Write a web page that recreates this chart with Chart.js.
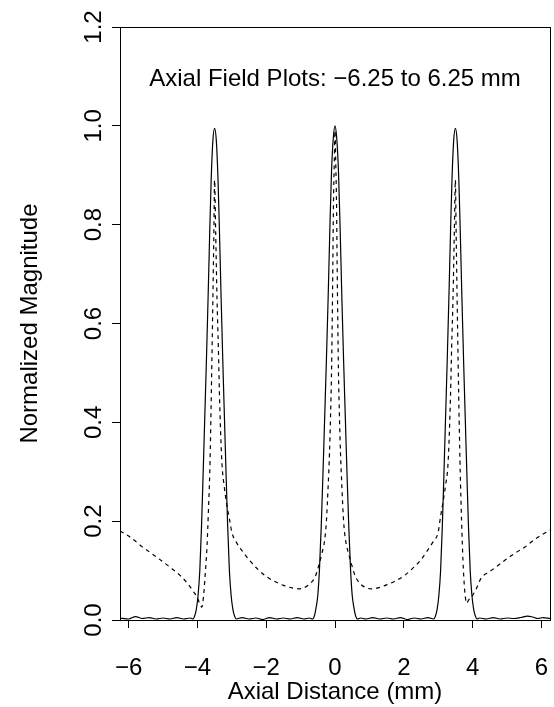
<!DOCTYPE html>
<html>
<head>
<meta charset="utf-8">
<script src="https://cdn.jsdelivr.net/npm/chart.js@4.4.1/dist/chart.umd.min.js"></script>
<style>
  html, body { margin: 0; padding: 0; background: #fff; }
  #wrap { width: 554px; height: 707px; }
</style>
</head>
<body>
<div id="wrap"><canvas id="fieldChart"></canvas></div>
<script>
const chartTitle = 'Axial Field Plots: \u22126.25 to 6.25 mm';
const xTicks = [-6, -4, -2, 0, 2, 4, 6];
const yTicks = [0, 0.2, 0.4, 0.6, 0.8, 1.0, 1.2];

// solid curve
const solidX = [
  -6.25, -6.0, -5.8, -5.6, -5.4, -5.2, -5.0, -4.8, -4.6, -4.4, -4.2,
  -4.13, -4.08, -4.03, -3.98, -3.93, -3.88, -3.84, -3.79, -3.74, -3.69, -3.64, -3.60, -3.55,
  -3.50,
  -3.45, -3.40, -3.36, -3.31, -3.26, -3.21, -3.16, -3.12, -3.07, -3.02, -2.97, -2.92, -2.87,
  -2.7, -2.5, -2.3, -2.1, -1.9, -1.7, -1.5, -1.3, -1.1, -0.9, -0.75,
  -0.65, -0.60, -0.55, -0.50, -0.45, -0.40, -0.35, -0.30, -0.25, -0.20, -0.15, -0.10, -0.05,
  0,
  0.05, 0.10, 0.15, 0.20, 0.25, 0.30, 0.35, 0.40, 0.45, 0.50, 0.55, 0.60, 0.65,
  0.75, 0.9, 1.1, 1.3, 1.5, 1.7, 1.9, 2.1, 2.3, 2.5, 2.7,
  2.87, 2.92, 2.97, 3.02, 3.07, 3.12, 3.16, 3.21, 3.26, 3.31, 3.36, 3.40, 3.45,
  3.50,
  3.55, 3.60, 3.64, 3.69, 3.74, 3.79, 3.84, 3.88, 3.93, 3.98, 4.03, 4.08, 4.13,
  4.2, 4.4, 4.6, 4.8, 5.0, 5.2, 5.4, 5.6, 5.75, 5.9, 6.05, 6.25
];
const solidY = [
  0.004, 0.002, 0.007, 0.003, 0.005, 0.002, 0.004, 0.002, 0.005, 0.002, 0.004,
  0.002, 0.008, 0.022, 0.05, 0.10, 0.19, 0.28, 0.40, 0.52, 0.65, 0.79, 0.89, 0.97,
  0.995,
  0.97, 0.89, 0.79, 0.65, 0.52, 0.40, 0.28, 0.19, 0.10, 0.05, 0.022, 0.008, 0.002,
  0.005, 0.002, 0.004, 0.001, 0.005, 0.002, 0.004, 0.002, 0.005, 0.002, 0.004,
  0.002, 0.008, 0.025, 0.05, 0.105, 0.19, 0.295, 0.41, 0.525, 0.65, 0.79, 0.91, 0.975,
  1.0,
  0.975, 0.91, 0.79, 0.65, 0.525, 0.41, 0.295, 0.19, 0.105, 0.05, 0.025, 0.008, 0.002,
  0.004, 0.002, 0.005, 0.002, 0.004, 0.002, 0.005, 0.001, 0.004, 0.002, 0.005,
  0.002, 0.008, 0.022, 0.05, 0.10, 0.19, 0.28, 0.40, 0.52, 0.65, 0.79, 0.89, 0.97,
  0.995,
  0.97, 0.89, 0.79, 0.65, 0.52, 0.40, 0.28, 0.19, 0.10, 0.05, 0.022, 0.008, 0.002,
  0.004, 0.002, 0.005, 0.002, 0.004, 0.003, 0.005, 0.008, 0.006, 0.003, 0.005, 0.003
];

// dashed curve
const dashX = [
  -6.25, -6.0, -5.6, -5.2, -4.8, -4.47, -4.3, -4.1, -4.0, -3.93, -3.87,
  -3.82, -3.77, -3.72, -3.68, -3.64, -3.61, -3.58, -3.55, -3.52,
  -3.50,
  -3.47, -3.43, -3.39, -3.36, -3.32, -3.28, -3.22, -3.15, -3.07, -3.0,
  -2.85, -2.7, -2.5, -2.25, -2.0, -1.75, -1.5, -1.25, -1.05, -0.85, -0.7, -0.58,
  -0.46, -0.38, -0.3, -0.25, -0.2, -0.16, -0.13, -0.1, -0.07, -0.044, -0.02,
  0,
  0.02, 0.044, 0.07, 0.1, 0.13, 0.16, 0.2, 0.25, 0.3, 0.38, 0.46,
  0.58, 0.7, 0.85, 1.05, 1.25, 1.5, 1.75, 2.0, 2.25, 2.5, 2.7, 2.85,
  3.0, 3.07, 3.15, 3.22, 3.28, 3.32, 3.36, 3.39, 3.43, 3.47,
  3.50,
  3.52, 3.55, 3.58, 3.61, 3.64, 3.68, 3.72, 3.77, 3.83,
  3.88, 4.0, 4.1, 4.25, 4.5, 4.75, 5.0, 5.25, 5.53, 5.8, 6.0, 6.25
];
const dashY = [
  0.180, 0.170, 0.148, 0.128, 0.107, 0.088, 0.075, 0.056, 0.045, 0.033, 0.026,
  0.05, 0.095, 0.15, 0.22, 0.30, 0.40, 0.52, 0.65, 0.79,
  0.89,
  0.79, 0.65, 0.55, 0.46, 0.37, 0.31, 0.27, 0.235, 0.205, 0.178,
  0.155, 0.14, 0.122, 0.103, 0.088, 0.078, 0.070, 0.065, 0.063, 0.067, 0.075, 0.087,
  0.113, 0.135, 0.162, 0.20, 0.27, 0.338, 0.41, 0.506, 0.67, 0.844, 0.93,
  0.99,
  0.93, 0.844, 0.67, 0.506, 0.41, 0.338, 0.27, 0.20, 0.165, 0.138, 0.118,
  0.09, 0.076, 0.067, 0.063, 0.065, 0.071, 0.079, 0.089, 0.104, 0.122, 0.142, 0.158,
  0.178, 0.21, 0.243, 0.275, 0.31, 0.37, 0.46, 0.55, 0.65, 0.79,
  0.89,
  0.79, 0.65, 0.52, 0.40, 0.30, 0.20, 0.12, 0.06, 0.034,
  0.04, 0.05, 0.062, 0.085, 0.098, 0.111, 0.124, 0.136, 0.148, 0.163, 0.172, 0.182
];

const toPoints = (xs, ys) => xs.map((x, i) => ({ x: x, y: ys[i] }));
const font = { family: '"Liberation Sans", Arial, Helvetica, sans-serif', size: 24 };
const uminus = (v) => String(v).replace('-', '\u2212');

const boxAndTitle = {
  id: 'boxAndTitle',
  afterDraw(chart) {
    const { ctx, chartArea: a } = chart;
    ctx.save();
    ctx.strokeStyle = '#000';
    ctx.lineWidth = 1;
    ctx.strokeRect(a.left + 0.5, a.top + 0.5, a.right - a.left, a.bottom - a.top);
    ctx.fillStyle = '#000';
    ctx.font = '24px ' + font.family;
    ctx.textAlign = 'center';
    ctx.textBaseline = 'alphabetic';
    ctx.fillText(chartTitle, (a.left + a.right) / 2, a.top + 59);
    ctx.restore();
  }
};

new Chart(document.getElementById('fieldChart'), {
  type: 'line',
  data: {
    datasets: [
      {
        label: 'solid',
        data: toPoints(solidX, solidY),
        borderColor: '#000',
        borderWidth: 1.2,
        pointRadius: 0,
        tension: 0,
        cubicInterpolationMode: 'monotone',
      },
      {
        label: 'dashed',
        data: toPoints(dashX, dashY),
        borderColor: '#000',
        borderWidth: 1.2,
        borderDash: [4, 4],
        pointRadius: 0,
        cubicInterpolationMode: 'monotone',
      },
    ],
  },
  options: {
    responsive: true,
    maintainAspectRatio: false,
    animation: false,
    layout: { padding: { top: 27, right: 4, left: 0, bottom: 0 } },
    plugins: {
      legend: { display: false },
      tooltip: { enabled: false },
    },
    scales: {
      x: {
        type: 'linear',
        min: -6.25,
        max: 6.25,
        afterBuildTicks: (s) => { s.ticks = xTicks.map((v) => ({ value: v })); },
        afterFit: (s) => {
          s.height = 87;
          s.paddingLeft = 0; s.paddingRight = 0;
        },
        border: { display: true, color: '#000', width: 1 },
        grid: { drawOnChartArea: false, drawTicks: true, tickLength: 8, color: '#000' },
        ticks: {
          color: '#000',
          font: font,
          padding: 26,
          maxRotation: 0,
          autoSkip: false,
          callback: (v) => uminus(v),
        },
        title: {
          display: true,
          text: 'Axial Distance (mm)',
          color: '#000',
          font: font,
          padding: { top: 0, bottom: 0 },
        },
      },
      y: {
        min: 0,
        max: 1.2,
        afterBuildTicks: (s) => { s.ticks = yTicks.map((v) => ({ value: v })); },
        afterFit: (s) => {
          s.width = 120;
          s.paddingTop = 0; s.paddingBottom = 0;
        },
        border: { display: true, color: '#000', width: 1 },
        grid: { drawOnChartArea: false, drawTicks: true, tickLength: 8, color: '#000' },
        ticks: {
          color: '#000',
          font: font,
          padding: 1,
          minRotation: 90,
          maxRotation: 90,
          crossAlign: 'center',
          autoSkip: false,
          callback: (v) => Number(v).toFixed(1),
        },
        title: {
          display: true,
          text: 'Normalized Magnitude',
          color: '#000',
          font: font,
          padding: { top: 16, bottom: 0 },
        },
      },
    },
  },
  plugins: [boxAndTitle],
});
</script>
</body>
</html>
